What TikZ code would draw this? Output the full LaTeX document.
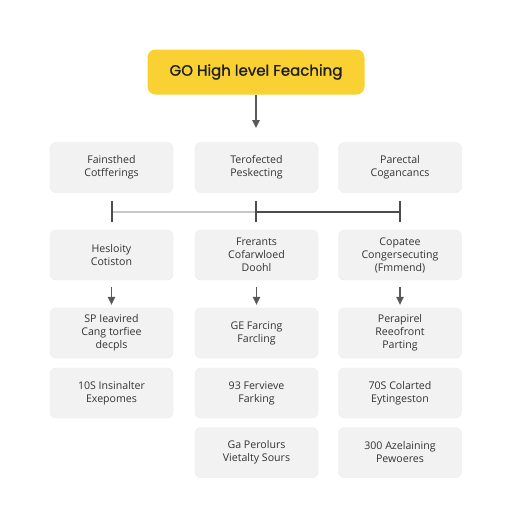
\documentclass[tikz,border=0pt]{standalone}
\usepackage{fontspec}
\setmainfont{Open Sans}
\newfontfamily\titlefont{Poppins}[FakeBold=1.2]
\usetikzlibrary{arrows.meta}
\definecolor{honey}{RGB}{250,209,50}
\colorlet{panel}{black!5}
\colorlet{ink}{black!80}
\tikzset{chart/box/.style={fill=panel, draw=black!8, line width=0.4pt, rounded corners=6pt,
    minimum width=123pt, minimum height=50pt, align=center, text=ink,
    font=\fontsize{10.6}{13}\selectfont},
  chart/arrow/.style={draw=black!65, line width=1.1pt, -{Triangle[length=8pt,width=7.5pt]}},
  chart/rail/.style={line width=1.6pt}}

\begin{document}
\begin{tikzpicture}[x=1pt, y=-1pt]
  \fill[white] (0,0) rectangle (512,512);
  \node[fill=honey, rounded corners=8pt, minimum width=217pt, minimum height=45pt,
    font=\titlefont\fontsize{15}{17}\selectfont, text=black!88] (title) at (256,72) {GO High level Feaching};
  \coordinate (drop) at (256,128);
  \draw[chart/arrow] (title) -- (drop);

  \node[chart/box] (a1) at (111.5,167.5) {Fainsthed\\Cotfferings};
  \node[chart/box] (b1) at (256.5,167.5) {Terofected\\Peskecting};
  \node[chart/box] (c1) at (400,167.5) {Parectal\\Cogancancs};

  \coordinate (ra) at (112,212);
  \coordinate (rb) at (256,212);
  \coordinate (rc) at (400,212);
  \draw[chart/rail, black!22] (ra) -- (rb);
  \draw[chart/rail, black!70] (rb) -- (rc);
  \foreach \r in {ra,rb,rc} \draw[chart/rail, black!70] ([yshift=-10pt]\r) -- ([yshift=11pt]\r);

  \node[chart/box] (a2) at (111.5,255) {Hesloity\\Cotiston};
  \node[chart/box] (b2) at (256.5,255) {Frerants\\Cofarwloed\\Doohl};
  \node[chart/box] (c2) at (400,255) {Copatee\\Congersecuting\\(Fmmend)};

  \node[chart/box] (a3) at (111.5,333) {SP Ieavired\\Cang torfiee\\decpls};
  \node[chart/box] (b3) at (256.5,333) {GE Farcing\\Farcling};
  \node[chart/box] (c3) at (400,333) {Perapirel\\Reeofront\\Parting};

  \foreach \c in {a,b,c} \draw[chart/arrow, shorten <=7pt, shorten >=3pt] (\c2) -- (\c3);

  \node[chart/box] (a4) at (111.5,393) {10S Insinalter\\Exepomes};
  \node[chart/box] (b4) at (256.5,393) {93 Fervieve\\Farking};
  \node[chart/box] (c4) at (400,393) {70S Colarted\\Eytingeston};

  \node[chart/box] (b5) at (256.5,452.5) {Ga Perolurs\\Vietalty Sours};
  \node[chart/box] (c5) at (400,452.5) {300 Azelaining\\Pewoeres};
\end{tikzpicture}
\end{document}
